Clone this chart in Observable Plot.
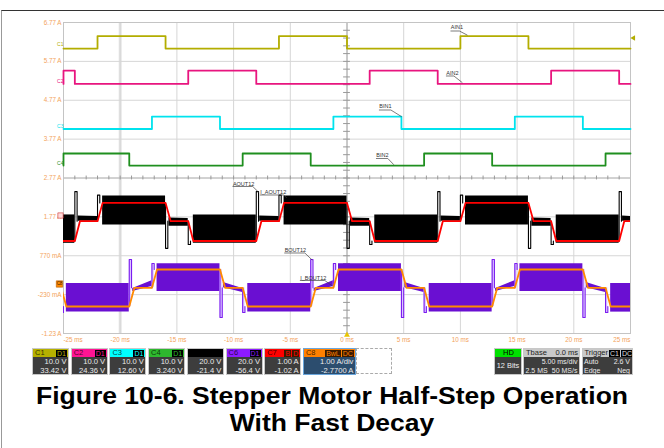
<!DOCTYPE html>
<html><head><meta charset="utf-8">
<script src="https://cdn.jsdelivr.net/npm/d3@7"></script>
<script src="https://cdn.jsdelivr.net/npm/@observablehq/plot@0.6"></script>
<style>
body{margin:0;background:#fff;font-family:"Liberation Sans",Arial,sans-serif;}
#wrap{position:relative;width:664px;height:448px;overflow:hidden;background:#fff;}
#border{position:absolute;left:1px;top:10px;right:-5px;bottom:-5px;border-top:1.5px solid #333;border-left:1px solid #999;pointer-events:none;}
#chart{position:absolute;left:0;top:0;}
.box{position:absolute;top:348px;height:27px;box-sizing:border-box;border:1px solid #c8c8c8;background:#3d3d3d;overflow:hidden;white-space:nowrap;}
.hdr{height:8px;display:flex;align-items:center;justify-content:space-between;font-size:7.5px;padding:0 1px 0 2px;line-height:8px;color:rgba(0,0,0,0.75);}
.bdgs{display:flex;}
.bdg{background:#000;padding:0 1px;margin-left:1px;height:7px;line-height:7px;font-size:7px;}
.ln{font-size:7.6px;color:#ececec;padding:0 1.5px;line-height:8.6px;display:flex;justify-content:space-between;white-space:nowrap;}
.ln span{flex:none;}
.small .ln{font-size:7px;}
.body{padding-top:1px;}
#caption{position:absolute;top:383px;left:0;width:664px;text-align:center;font-weight:bold;font-size:23.5px;line-height:27px;color:#000;white-space:nowrap;transform:scaleX(1.128);transform-origin:332px 0;}
</style></head>
<body>
<div id="wrap">
  <div id="chart"></div>
  <div id="panel"></div>
  <div id="caption">Figure 10-6. Stepper Motor Half-Step Operation<br>With Fast Decay</div>
  <div id="border"></div>
</div>
<script>
// ---------- axis ticks ----------
const timeTicks = [-25,-20,-15,-10,-5,0,5,10,15,20,25];
const timeLabels = ["-25 ms","-20 ms","-15 ms","-10 ms","-5 ms","0 ms","5 ms","10 ms","15 ms","20 ms","25 ms"];
const ampTicks = [6.77,5.77,4.77,3.77,2.77,1.77,0.77,-0.23,-1.23];
const ampLabels = ["6.77 A","5.77 A","4.77 A","3.77 A","2.77 A","1.77 A","770 mA","-230 mA","-1.23 A"];

// ---------- digital inputs (high intervals, ms) ----------
const ain1High = [[-22,-16],[-6,0],[10,16]];
const ain2High = [[-25,-24],[-14,-8],[2,8],[18,24]];
const bin1High = [[-17.2,-11.2],[-1.2,4.8],[14.8,20.8]];
const bin2High = [[-25,-19.2],[-9.2,-3.2],[6.8,12.8],[22.8,25]];
const ain1Levels = [6.10, 6.42];
const ain2Levels = [5.19, 5.53];
const bin1Levels = [4.03, 4.35];
const bin2Levels = [3.09, 3.40];

// ---------- AOUT12 / I_AOUT12 ----------
const aoutEvents = [-24,-22,-16,-14,-8,-6,0,2,8,10,16,18,24];
const aoutStates = ["L","M","H","M","L","M","H","M","L","M","H","M","L","M"];
const aoutCurrent = {L:1.15, M:1.66, H:2.13};
const aoutBand = {L:[1.82,1.82,1.09,1.09], H:[2.31,2.31,1.56,1.56], "L>M":[1.79,1.78,1.66,1.66], "H>M":[1.74,1.73,1.53,1.53]};
const aoutSpike = {"L>M":2.42, "M>H":2.33, "H>M":0.96, "M>L":1.06};

// ---------- BOUT12 / I_BOUT12 ----------
const boutEvents = [-25.2,-19.2,-17.2,-11.2,-9.2,-3.2,-1.2,4.8,6.8,12.8,14.8,20.8,22.8];
const boutStates = ["M","L","M","H","M","L","M","H","M","L","M","H","M","L"];
const boutCurrent = {L:-0.535, M:-0.055, H:0.416};
const boutBand = {L:[0.056,0.056,-0.68,-0.68], H:[0.563,0.563,-0.15,-0.15], "L>M":[-0.07,0.13,-0.15,-0.02], "H>M":[0.08,-0.07,-0.05,-0.175]};
const boutSpike = {"L>M":0.674, "M>H":0.57, "H>M":-0.818, "M>L":-0.69};

// ---------- annotations ----------
const annLabels = ["AIN1","AIN2","BIN1","BIN2","AOUT12","I_AOUT12","BOUT12","I_BOUT12"];
const annTextT  = [9.16, 8.76, 2.85, 2.59, -10.06, -7.65, -5.50, -4.12];
const annTextA  = [6.649, 5.466, 4.609, 3.349, 2.621, 2.405, 0.905, 0.203];
const annUnderA = [6.551, 5.394, 4.519, 3.272, 2.551, 2.333, 0.841, 0.134];
const annUnderEndT = [9.91, 9.43, 3.87, 3.60, -8.31, -5.57, -3.72, -1.96];
const annTargetT = [10.59, 10.15, 4.79, 4.11, -7.80, -5.35, -3.09, -1.32];
const annTargetA = [6.448, 5.227, 4.352, 3.117, 2.405, 2.268, 0.666, 0.0];

// ---------- channel markers ----------
const markerLabels = ["C1","C2","C3","C4","C5","C8"];
const markerA = [6.196, 5.252, 4.102, 3.151, 1.805, 0.043];

// ---------- info panel text ----------
const chanNames = ["C1","C2","C3","C4","","C6","C7","C8"];
const chanBadges = [["D1"],["D1"],["D1"],["D1"],[],["D1"],["B","D"],["BwL","DC"]];
const chanScale = ["10.0 V","10.0 V","10.0 V","10.0 V","20.0 V","20.0 V","1.00 A","1.00 A/div"];
const chanOffset = ["33.42 V","24.36 V","12.60 V","3.240 V","-21.4 V","-56.4 V","-1.02 A","-2.7700 A"];

// ---------- styles ----------
const COL = {c1:"#b3ad00", c2:"#e8157f", c3:"#00e3ee", c4:"#1f8f1f", red:"#ff0000", orange:"#ff8a00", purple:"#6a0fd2", lav:"#dcc8ff", axis:"#f3a35c"};
const hdrColors = ["#b5b000","#ff1493","#00ffff","#2eb82e","#000000","#8c1aff","#ff0000","#ff8000"];
const SPW = 0.2; // spike width (ms) – drawing style

// ---------- builders ----------
function stepPts(highs, lv){
  const pts = [];
  let cur = lv[0];
  pts.push({t:-25, v: cur});
  for (const [a,b] of highs){
    pts.push({t:a, v:lv[1]}); cur = lv[1];
    if (b < 25){ pts.push({t:b, v:lv[0]}); cur = lv[0]; }
  }
  pts.push({t:25, v:cur});
  return pts;
}
function bandPts(events, states, band, pre){
  const out = [];
  for (let i=0;i<states.length;i++){
    const s = states[i];
    const key = s === "M" ? (states[i-1] + ">M") : s;
    const b = band[key]; if (!b) continue;
    const t0 = i===0 ? -25 : events[i-1] + (s==="M" ? 0.3 : 0.45);
    const t1 = i===events.length ? 25 : events[i];
    if (t1 <= t0) continue;
    out.push({id:pre+i, t:t0, top:b[0], bot:b[2]}, {id:pre+i, t:t1, top:b[1], bot:b[3]});
  }
  return out;
}
function currPts(events, states, lv){
  const pts = [{t:-25.5, v:lv[states[0]]}];
  events.forEach((e,i)=>{
    pts.push({t:e, v:lv[states[i]]});
    pts.push({t:e+0.45, v:lv[states[i+1]]});
  });
  pts.push({t:25, v:lv[states[states.length-1]]});
  return pts;
}
function spikePts(events, states, spikes, lv, pre){
  const out = [];
  events.forEach((e,i)=>{
    const tip = spikes[states[i] + ">" + states[i+1]];
    out.push({id:pre+i, t:e, v:lv[states[i]]},{id:pre+i, t:e, v:tip},{id:pre+i, t:e+SPW, v:tip},{id:pre+i, t:e+SPW, v:lv[states[i+1]]});
  });
  return out;
}
function spikeRects(events, states, spikes, lv){
  return events.map((e,i)=>({t0:e, t1:e+SPW, a:lv[states[i]], b:spikes[states[i]+">"+states[i+1]]}));
}

const aBands = bandPts(aoutEvents, aoutStates, aoutBand, "a");
const bBands = bandPts(boutEvents, boutStates, boutBand, "b");
const aSpk = spikePts(aoutEvents, aoutStates, aoutSpike, aoutCurrent, "a");
const bSpk = spikePts(boutEvents, boutStates, boutSpike, boutCurrent, "b");
const bSpkR = spikeRects(boutEvents, boutStates, boutSpike, boutCurrent);

const ann = annLabels.map((l,i)=>({label:l, t:annTextT[i], a:annTextA[i]}));
const annLines = annLabels.flatMap((l,i)=>[
  {id:l, t:annTextT[i], v:annUnderA[i]},
  {id:l, t:annUnderEndT[i], v:annUnderA[i]},
  {id:l, t:annTargetT[i], v:annTargetA[i]}
]);
const ticksIdx = timeTicks.map((d,i)=>i);
const minorX = d3.range(-25, 25.001, 1);
const minorY = d3.range(-1.23, 6.771, 0.2);

const plot = Plot.plot({
  width: 664, height: 346,
  marginLeft: 63, marginRight: 34, marginTop: 22, marginBottom: 13,
  x: {domain: [-25, 25], axis: null},
  y: {domain: [-1.23, 6.77], axis: null},
  style: {background: "transparent", fontFamily: "Liberation Sans, Arial, sans-serif", overflow: "visible"},
  marks: [
    Plot.ruleX([-20], {stroke: "#e4e4e4", strokeWidth: 3}),
    Plot.ruleX(timeTicks, {stroke: "#d6d6d6", strokeWidth: 1}),
    Plot.ruleY(ampTicks, {stroke: "#d6d6d6", strokeWidth: 1}),
    Plot.ruleX([0], {stroke: "#a8a8a8", strokeWidth: 1}),
    Plot.ruleY([2.77], {stroke: "#b8b8b8", strokeWidth: 1}),
    Plot.ruleX(minorX, {x: d=>d, y1: 2.72, y2: 2.82, stroke: "#999"}),
    Plot.ruleY(minorY, {y: d=>d, x1: -0.3, x2: 0.3, stroke: "#999"}),
    Plot.frame({stroke: "#c4c4c4"}),
    // digital traces
    Plot.line(stepPts(ain1High, ain1Levels), {x:"t", y:"v", curve:"step-after", stroke: COL.c1, strokeWidth: 1.8}),
    Plot.line(stepPts(ain2High, ain2Levels), {x:"t", y:"v", curve:"step-after", stroke: COL.c2, strokeWidth: 1.8}),
    Plot.line(stepPts(bin1High, bin1Levels), {x:"t", y:"v", curve:"step-after", stroke: COL.c3, strokeWidth: 1.8}),
    Plot.line(stepPts(bin2High, bin2Levels), {x:"t", y:"v", curve:"step-after", stroke: COL.c4, strokeWidth: 1.8}),
    // AOUT
    Plot.areaY(aBands, {x:"t", y1:"bot", y2:"top", z:"id", fill:"#000", clip:true}),
    Plot.line(aSpk, {x:"t", y:"v", z:"id", stroke:"#000", strokeWidth:1.1, clip:true}),
    Plot.line(currPts(aoutEvents, aoutStates, aoutCurrent), {x:"t", y:"v", stroke: COL.red, strokeWidth: 1.8, clip:true}),
    // BOUT
    Plot.areaY(bBands, {x:"t", y1:"bot", y2:"top", z:"id", fill: COL.purple, clip:true}),
    Plot.rect(bSpkR, {x1:"t0", x2:"t1", y1:"a", y2:"b", fill: COL.lav, clip:true}),
    Plot.line(bSpk, {x:"t", y:"v", z:"id", stroke:"#7b1cf0", strokeWidth:1.1, clip:true}),
    Plot.line(currPts(boutEvents, boutStates, boutCurrent), {x:"t", y:"v", stroke: COL.orange, strokeWidth: 1.8, clip:true}),
    // annotations
    Plot.line(annLines, {x:"t", y:"v", z:"id", stroke:"#444", strokeWidth:0.7}),
    Plot.text(ann, {x:"t", y:"a", text:"label", textAnchor:"start", fontSize:5.5, fill:"#333"}),
    // axis labels
    Plot.text(ampTicks, {x: -25, y: d=>d, text: (d,i)=>ampLabels[i], textAnchor:"end", dx:-2, fontSize:6.3, fill: COL.axis}),
    Plot.text([0], {x: i=>timeTicks[i], y: -1.23, dy: 6, text: i=>timeLabels[i], textAnchor:"start", fontSize:6.3, fill: COL.axis}),
    Plot.text(ticksIdx.slice(1,-1), {x: i=>timeTicks[i], y: -1.23, dy: 6, text: i=>timeLabels[i], textAnchor:"middle", fontSize:6.3, fill: COL.axis}),
    Plot.text([timeTicks.length-1], {x: i=>timeTicks[i], y: -1.23, dy: 6, text: i=>timeLabels[i], textAnchor:"end", fontSize:6.3, fill: COL.axis}),
    // markers
    Plot.text(markerLabels.slice(0,4), {x:-25, y:(d,i)=>markerA[i], text:d=>d, textAnchor:"end", dx:0, fontSize:5, fill:(d,i)=>[COL.c1,COL.c2,COL.c3,COL.c4][i]}),
    Plot.dot([markerA[4]], {x:-25, y:d=>d, symbol:"square", r:3, dx:-3, fill:"#ffd9d9", stroke:"#cc3333", strokeWidth:0.6}),
    Plot.dot([markerA[5]], {x:-25, y:d=>d, symbol:"square", r:3.6, dx:-4, fill:COL.orange, stroke:"#b35c00", strokeWidth:0.6}),
    Plot.text([markerLabels[5]], {x:-25, y:markerA[5], text:d=>d, dx:-4, fontSize:4.5, fill:"#402000"}),
    Plot.dot([0], {x:d=>d, y:-1.23, symbol:"triangle", r:2.2, dy:1.5, fill:"#e8c400"}),
    Plot.dot([ain1Levels[0] + 0.27], {x:25, y:d=>d, symbol:"triangle", r:2, dx:3, rotate:-90, fill:COL.c1})
  ]
});
document.getElementById("chart").appendChild(plot);

// ---------- info panel ----------
const panel = document.getElementById("panel");
function mk(tag, cls, parent, txt){ const e=document.createElement(tag); if(cls) e.className=cls; if(txt!==undefined) e.textContent=txt; parent.appendChild(e); return e; }
chanNames.forEach((n,i)=>{
  const b = mk("div","box",panel);
  b.style.left = (32 + i*38.7) + "px"; b.style.width = "37px";
  if (i===7){ b.style.background="#2c4d6e"; b.style.borderColor="#6aa6dc"; b.style.width="53px"; }
  const h = mk("div","hdr",b); h.style.background = hdrColors[i];
  mk("span","",h,n);
  const bg = mk("span","bdgs",h);
  chanBadges[i].forEach(t=>{ const s=mk("span","bdg",bg,t); s.style.color = hdrColors[i]; if(i===7||i===6) s.style.background="#3a1a00"; });
  const body = mk("div","body",b);
  const l1 = mk("div","ln",body); mk("span","",l1,""); mk("span","",l1,chanScale[i]);
  const l2 = mk("div","ln",body); mk("span","",l2,""); mk("span","",l2,chanOffset[i]);
});
const dash = mk("div","",panel);
Object.assign(dash.style,{position:"absolute",left:"356px",top:"348px",width:"36px",height:"26px",border:"1px dashed #aaa",boxSizing:"border-box"});
// HD
{
  const b = mk("div","box",panel); b.style.left="494px"; b.style.width="28px";
  const h = mk("div","hdr",b); h.style.background="#00e000"; h.style.justifyContent="center"; h.style.color="#000"; mk("span","",h,"HD");
  const body = mk("div","body",b); body.style.textAlign="center"; body.style.color="#eee"; body.style.fontSize="7.4px"; body.style.lineHeight="16px"; body.textContent="12 Bits";
}
// Tbase
{
  const b = mk("div","box small",panel); b.style.left="523px"; b.style.width="57px";
  const h = mk("div","hdr",b); h.style.background="#c9c9c9"; h.style.color="#222"; mk("span","",h,"Tbase"); mk("span","",h,"0.0 ms");
  const body = mk("div","body",b);
  const l1 = mk("div","ln",body); mk("span","",l1,""); mk("span","",l1,"5.00 ms/div");
  const l2 = mk("div","ln",body); mk("span","",l2,"2.5 MS"); mk("span","",l2,"50 MS/s");
}
// Trigger
{
  const b = mk("div","box small",panel); b.style.left="581.5px"; b.style.width="51px";
  const h = mk("div","hdr",b); h.style.background="#c9c9c9"; h.style.color="#222"; mk("span","",h,"Trigger");
  const bg = mk("span","bdgs",h); ["C1","DC"].forEach(t=>{ const s=mk("span","bdg",bg,t); s.style.color="#ddd"; });
  const body = mk("div","body",b);
  const l1 = mk("div","ln",body); mk("span","",l1,"Auto"); mk("span","",l1,"2.6 V");
  const l2 = mk("div","ln",body); mk("span","",l2,"Edge"); mk("span","",l2,"Neg");
}
</script>
</body></html>
